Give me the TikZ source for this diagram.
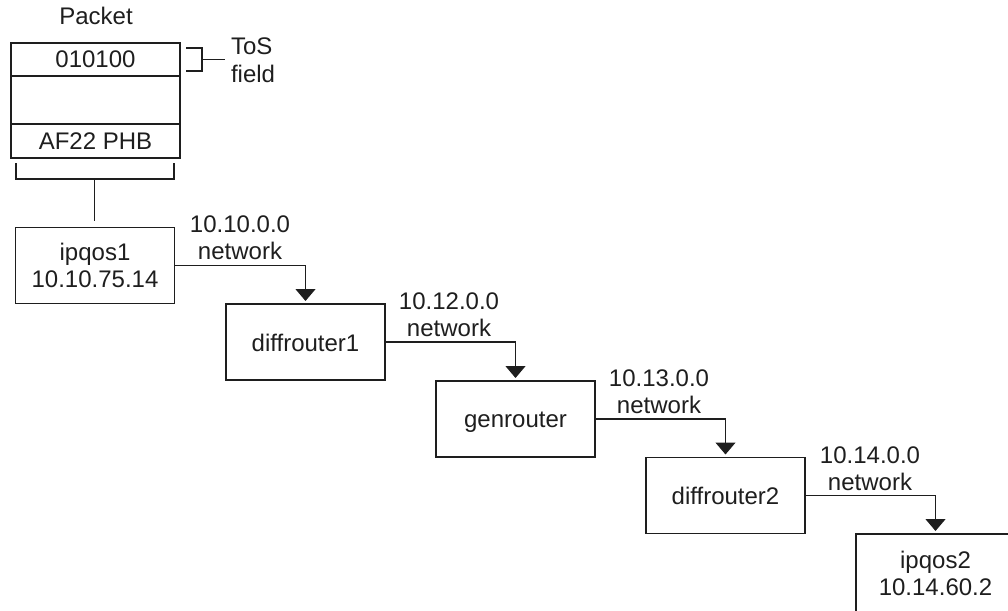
\documentclass[tikz,border=0pt]{standalone}
\usepackage{fontspec}
\setmainfont{Liberation Sans}
\usetikzlibrary{arrows.meta}
\definecolor{ink}{HTML}{1E1E1E}
\tikzset{
  x=1pt,y=-1pt,
  every node/.style={inner sep=0pt,outer sep=0pt,text=ink,font=\fontsize{24}{27}\selectfont},
  wire/.style={draw=ink,line width=1.2pt},
  arrowline/.style={wire,-{Triangle[width=20pt,length=12pt]},shorten >=3pt},
  hostbox/.style={draw=ink,line width=1.2pt,minimum width=159pt,minimum height=76pt,align=center,text depth=0pt},
  openbox/.style={minimum width=159pt,minimum height=78pt,align=center},
  cell/.style={draw=ink,line width=1.2pt,minimum width=169pt,text depth=0pt},
  netlabel/.style={align=center},
  plain/.style={anchor=base}
}
\newcommand{\lowered}[1]{\raisebox{-1.5pt}{#1}}
\begin{document}
\begin{tikzpicture}
\useasboundingbox (0,0) rectangle (1008,610);
% packet
\node[plain] (packet) at (96,25) {Packet};
\node[cell,minimum height=33pt] (tos) at (95.5,59.5) {010100};
\node[cell,minimum height=48pt] (mid) at (95.5,100) {};
\node[cell,minimum height=34pt] (phb) at (95.5,141) {AF22 PHB};
\node[plain,anchor=base west] (toslabel) at (231,55) {ToS};
\node[plain,anchor=base west] (fieldlabel) at (231,82) {field};
% ToS bracket
\coordinate (tosA) at (186,48);
\coordinate (tosB) at (186,71);
\coordinate (tosC) at (202,59.5);
\coordinate (tosD) at (225,59.5);
\draw[wire] (tosA) -| (tosC) |- (tosB);
\draw[wire] (tosC) -- (tosD);
% hosts
\node[hostbox] (ipqos1) at (95,265.5) {ipqos1\\10.10.75.14};
\node[hostbox] (diffrouter1) at (305.5,342) {\lowered{diffrouter1}};
\node[hostbox] (genrouter) at (515.5,419) {\lowered{genrouter}};
\node[hostbox] (diffrouter2) at (725.5,495.5) {\lowered{diffrouter2}};
\node[openbox] (ipqos2) at (935.5,573) {ipqos2\\10.14.60.2};
\draw[wire] (ipqos2.south west) -- (ipqos2.north west) -- (ipqos2.north east);
% packet brace
\coordinate (braceA) at (16,163);
\coordinate (braceB) at (174,163);
\coordinate (braceC) at (94.5,179);
\draw[wire] (braceA) |- (braceC) -| (braceB);
\draw[wire] (braceC) -- (94.5,221);
% network labels
\node[netlabel] (n10) at (240,238) {10.10.0.0\\network};
\node[netlabel] (n12) at (449,315) {10.12.0.0\\network};
\node[netlabel] (n13) at (659,392) {10.13.0.0\\network};
\node[netlabel] (n14) at (870,469) {10.14.0.0\\network};
% connectors
\draw[arrowline] (ipqos1.east) -| (diffrouter1.north);
\draw[arrowline] (diffrouter1.east) -| (genrouter.north);
\draw[arrowline] (genrouter.east) -| (diffrouter2.north);
\draw[arrowline] (diffrouter2.east) -| (ipqos2.north);
\end{tikzpicture}
\end{document}
